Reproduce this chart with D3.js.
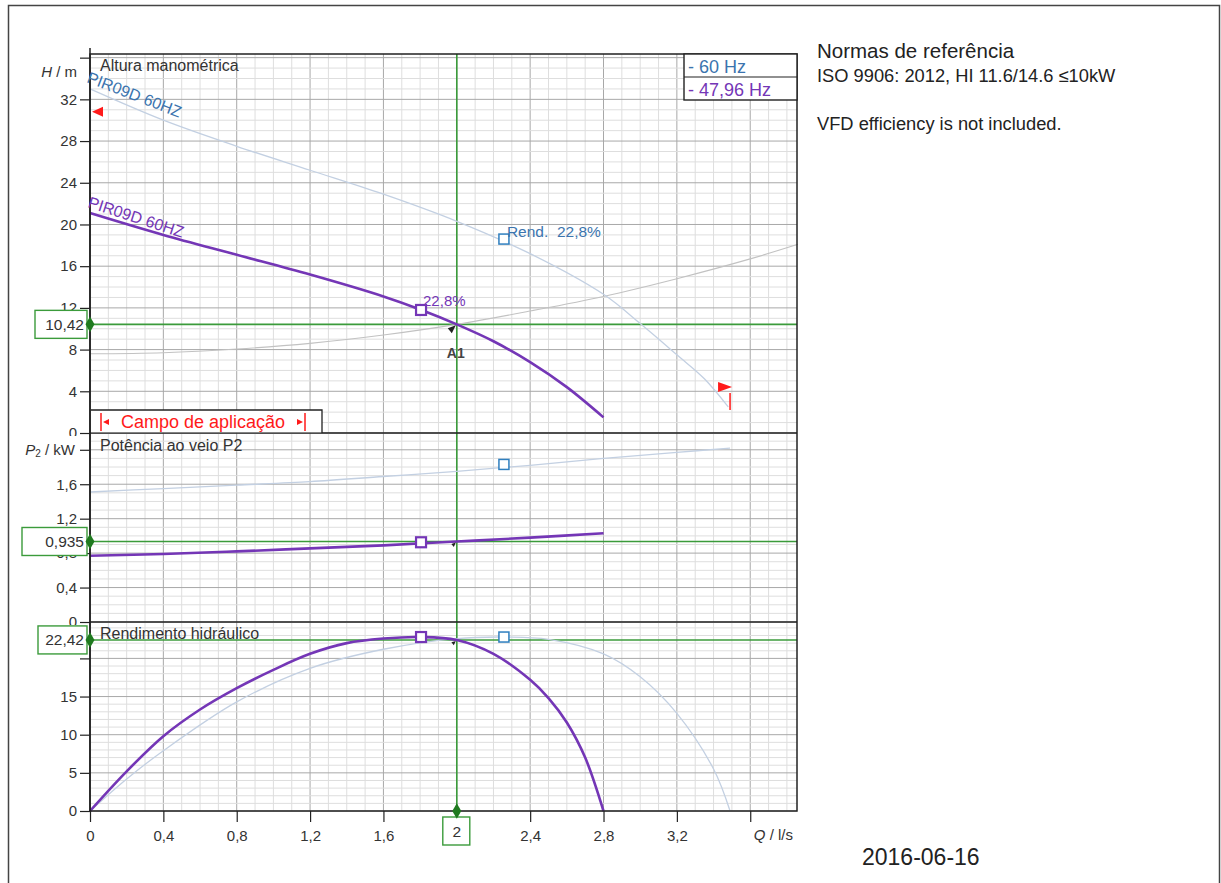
<!DOCTYPE html>
<html>
<head>
<meta charset="utf-8">
<script src="https://cdn.jsdelivr.net/npm/d3@7"></script>
<style>
  body { margin: 0; background: #fff; }
  svg { display: block; font-family: "Liberation Sans", Arial, sans-serif; }
</style>
</head>
<body>
<div id="chart"></div>
<script>
// ---- data ----
// 60 Hz curves
const qHead60 = [0, 0.4, 0.8, 1.2, 1.6, 2.0, 2.4, 2.8, 3.0, 3.2, 3.35, 3.48]
const head60 = [33.0, 30.0, 27.5, 25.2, 22.9, 20.3, 17.2, 13.3, 10.5, 7.5, 5.2, 2.5]
const qPower60 = [0, 0.4, 0.8, 1.2, 1.6, 2.0, 2.4, 2.8, 3.2, 3.49]
const power60 = [1.51, 1.55, 1.59, 1.63, 1.69, 1.75, 1.82, 1.90, 1.97, 2.02]
const qEff60 = [0, 0.2, 0.4, 0.8, 1.2, 1.6, 2.0, 2.27, 2.5, 2.8, 3.0, 3.2, 3.4, 3.49]
const eff60 = [0, 4.2, 7.9, 14.3, 18.7, 21.2, 22.6, 22.8, 22.5, 20.6, 17.6, 12.8, 5.5, 0]

// 47,96 Hz curves
const qHead48 = [0, 0.4, 0.8, 1.2, 1.6, 1.8, 2.0, 2.2, 2.4, 2.6, 2.8]
const head48 = [21.1, 19.0, 17.1, 15.2, 13.1, 11.85, 10.42, 8.8, 6.8, 4.4, 1.5]
const qPower48 = [0, 0.4, 0.8, 1.2, 1.6, 2.0, 2.4, 2.8]
const power48 = [0.77, 0.79, 0.82, 0.855, 0.89, 0.935, 0.98, 1.03]
const qEff48 = [0, 0.2, 0.4, 0.6, 0.8, 1.0, 1.2, 1.4, 1.6, 1.8, 2.0, 2.2, 2.4, 2.5, 2.6, 2.7, 2.8]
const eff48 = [0, 5.2, 9.8, 13.3, 16.1, 18.5, 20.6, 22.0, 22.6, 22.8, 22.42, 20.6, 17.2, 14.8, 11.6, 7.0, 0]

// system curve
const qSystem = [0, 0.4, 0.8, 1.2, 1.6, 2.0, 2.4, 2.8, 3.2, 3.6, 3.86]
const headSystem = [7.6, 7.7, 8.05, 8.6, 9.4, 10.42, 11.7, 13.1, 14.8, 16.7, 18.1]

// best efficiency points  [Q, H, P2, eta]
const bep60 = [2.257, 18.6, 1.83, 22.8]
const bep48 = [1.805, 11.8, 0.926, 22.8]
// duty point [Q, H, P2, eta]
const duty = [2, 10.42, 0.935, 22.42]
// application range limits [Q, H]
const rangeMin = [0, 30.8]
const rangeMax = [3.49, 2.5]

// axes
const qMax = 3.855, hMax = 36.35, pMax = 2.195, eMax = 24.77
const qTickLabels = [0, 0.4, 0.8, 1.2, 1.6, 2.4, 2.8, 3.2]
const hTickLabels = [0, 4, 8, 12, 16, 20, 24, 28, 32]
const pTickLabels = [0, 0.4, 0.8, 1.2, 1.6]
const eTickLabels = [0, 5, 10, 15]
const legendLabels = ["- 60 Hz", "- 47,96 Hz"]

// ---- drawing ----
const width = 1221, height = 883
const left = 90, right = 797
const blue = "#3b74ae", purple = "#7436b6", lightBlue = "#c3d0e2", green = "#3b9b3b", red = "#ff1a1a"

const comma = v => String(+v.toFixed(3)).replace(".", ",")

const svg = d3.select("#chart").append("svg")
    .attr("width", width)
    .attr("height", height)

// page frame
svg.append("rect")
    .attr("x", 8.5).attr("y", 5.5)
    .attr("width", 1211).attr("height", 900)
    .attr("fill", "none").attr("stroke", "#444").attr("stroke-width", 1.5)

const x = d3.scaleLinear().domain([0, qMax]).range([left, right])

const panels = [
    { y: d3.scaleLinear().domain([0, hMax]).range([433, 54]), major: 4, minor: 1, labels: hTickLabels, clip: true },
    { y: d3.scaleLinear().domain([0, pMax]).range([622, 433]), major: 0.4, minor: 0.1, labels: pTickLabels, clip: true },
    { y: d3.scaleLinear().domain([0, eMax]).range([811, 622]), major: 5, minor: 1, labels: eTickLabels, clip: false }
]
const [yH, yP, yE] = panels.map(p => p.y)

// grid
const grid = svg.append("g")
const xMinor = d3.range(0, Math.floor(qMax * 10) + 1).map(i => i / 10)
panels.forEach(p => {
    const [bottom, top] = p.y.range()
    grid.selectAll(null).data(xMinor).join("line")
        .attr("x1", d => x(d)).attr("x2", d => x(d))
        .attr("y1", top).attr("y2", bottom)
        .attr("stroke", (d, i) => i % 4 === 0 ? "#a8a8a8" : "#dedede")
        .attr("stroke-width", 1)
    const n = Math.floor(p.y.domain()[1] / p.minor + 1e-6)
    const step = Math.round(p.major / p.minor)
    grid.selectAll(null).data(d3.range(0, n + 1)).join("line")
        .attr("x1", left).attr("x2", right)
        .attr("y1", i => p.y(i * p.minor)).attr("y2", i => p.y(i * p.minor))
        .attr("stroke", i => i % step === 0 ? "#a8a8a8" : "#dedede")
        .attr("stroke-width", 1)
})

// green duty lines
const guide = svg.append("g").attr("stroke", green).attr("stroke-width", 1.6)
guide.append("line")
    .attr("x1", x(duty[0])).attr("x2", x(duty[0]))
    .attr("y1", 54).attr("y2", 811)
;[[yH, duty[1]], [yP, duty[2]], [yE, duty[3]]].forEach(([y, v]) => {
    guide.append("line")
        .attr("x1", left).attr("x2", right)
        .attr("y1", y(v)).attr("y2", y(v))
})

// curves
const line = y => d3.line().x(d => x(d[0])).y(d => y(d[1])).curve(d3.curveCatmullRom.alpha(0.5))
function curve(qs, vs, y, color, w) {
    svg.append("path")
        .datum(qs.map((q, i) => [q, vs[i]]))
        .attr("fill", "none")
        .attr("stroke", color)
        .attr("stroke-width", w)
        .attr("d", line(y))
}
curve(qSystem, headSystem, yH, "#c2c2c2", 1.1)
curve(qHead60, head60, yH, lightBlue, 1.3)
curve(qPower60, power60, yP, lightBlue, 1.3)
curve(qEff60, eff60, yE, lightBlue, 1.3)
curve(qHead48, head48, yH, purple, 2.6)
curve(qPower48, power48, yP, purple, 2.6)
curve(qEff48, eff48, yE, purple, 2.6)

// plot frame and panel separators
svg.append("rect")
    .attr("x", left).attr("y", 54)
    .attr("width", right - left).attr("height", 811 - 54)
    .attr("fill", "none").attr("stroke", "#222").attr("stroke-width", 1.5)
;[433, 622].forEach(yy => svg.append("line")
    .attr("x1", left).attr("x2", right).attr("y1", yy).attr("y2", yy)
    .attr("stroke", "#222").attr("stroke-width", 1.5))

// left axes
panels.forEach((p, k) => {
    const [bottom, top] = p.y.range()
    const g = svg.append("g").attr("transform", `translate(${left},0)`)
    if (p.clip) {
        svg.append("clipPath").attr("id", "clip" + k)
            .append("rect").attr("x", -left).attr("y", top - 10)
            .attr("width", left + 2).attr("height", bottom - top + 13)
        g.attr("clip-path", `url(#clip${k})`)
    }
    const n = Math.floor(p.y.domain()[1] / p.minor + 1e-6)
    const minors = d3.range(0, n + 1).map(i => +(i * p.minor).toFixed(3))
    const majors = minors.filter((v, i) => i % Math.round(p.major / p.minor) === 0)
    g.call(d3.axisLeft(p.y).tickValues(minors).tickSize(6).tickFormat(""))
    g.call(d3.axisLeft(p.y).tickValues(majors).tickSize(10).tickPadding(3)
        .tickFormat(v => p.labels.includes(v) ? comma(v) : ""))
    g.selectAll(".domain").remove()
    g.selectAll(".tick line").attr("stroke", "#222").attr("stroke-width", 1.2)
    g.selectAll(".tick text").attr("fill", "#333").style("font-size", "15px")
        .style("font-family", "Liberation Sans, Arial, sans-serif")
})
svg.append("line").attr("x1", left).attr("x2", left).attr("y1", 48).attr("y2", 811)
    .attr("stroke", "#222").attr("stroke-width", 1.5)

// bottom axis
const xg = svg.append("g").attr("transform", "translate(0,811)")
xg.call(d3.axisBottom(x).tickValues(xMinor).tickSize(7).tickFormat(""))
xg.call(d3.axisBottom(x).tickValues(xMinor.filter((d, i) => i % 4 === 0)).tickSize(11).tickPadding(8)
    .tickFormat(v => qTickLabels.includes(v) ? comma(v) : ""))
xg.selectAll(".domain").remove()
xg.selectAll(".tick line").attr("stroke", "#222").attr("stroke-width", 1.2)
xg.selectAll(".tick text").attr("fill", "#333").style("font-size", "15px")
    .style("font-family", "Liberation Sans, Arial, sans-serif")

// axis titles
const t = svg.append("g").attr("fill", "#333").style("font-size", "15px")
const hT = t.append("text").attr("x", 77).attr("y", 77).attr("text-anchor", "end")
hT.append("tspan").attr("font-style", "italic").text("H")
hT.append("tspan").style("white-space", "pre").text(" / m")
const pT = t.append("text").attr("x", 75).attr("y", 455).attr("text-anchor", "end")
pT.append("tspan").attr("font-style", "italic").text("P")
pT.append("tspan").style("font-size", "10px").attr("dy", 2).text("2")
pT.append("tspan").style("white-space", "pre").attr("dy", -2).text(" / kW")
const qT = t.append("text").attr("x", 793).attr("y", 840).attr("text-anchor", "end")
qT.append("tspan").attr("font-style", "italic").text("Q")
qT.append("tspan").style("white-space", "pre").text(" / l/s")

// panel titles
const titles = svg.append("g").attr("fill", "#333").style("font-size", "16px")
titles.append("text").attr("x", 100).attr("y", 71).text("Altura manométrica")
titles.append("text").attr("x", 100).attr("y", 451).text("Potência ao veio P2")
titles.append("text").attr("x", 100).attr("y", 639).text("Rendimento hidráulico")

// curve names
svg.append("text").attr("transform", "translate(86,82) rotate(21)")
    .attr("fill", blue).style("font-size", "16px").text("PIR09D 60HZ")
svg.append("text").attr("transform", "translate(87,207) rotate(18)")
    .attr("fill", purple).style("font-size", "16px").text("PIR09D 60HZ")

// small markers at duty point
;[[yH, duty[1], 1], [yP, duty[2], 0.6], [yE, duty[3], 0.6]].forEach(([y, v, s]) => {
    const px = x(duty[0]), py = y(v)
    svg.append("path")
        .attr("d", `M${px - 1},${py + 1} L${px - 9 * s},${py + 4 * s} L${px - 5 * s},${py + 9 * s} Z`)
        .attr("fill", "#222")
})
svg.append("text").attr("x", x(duty[0]) - 10).attr("y", yH(duty[1]) + 34)
    .attr("fill", "#444").style("font-size", "14px").attr("font-weight", "bold").text("A1")

// BEP squares
function square(q, v, y, color, sw) {
    svg.append("rect")
        .attr("x", x(q) - 5).attr("y", y(v) - 5)
        .attr("width", 10).attr("height", 10)
        .attr("fill", "#fff").attr("stroke", color).attr("stroke-width", sw)
}
;[[yH, 1], [yP, 2], [yE, 3]].forEach(([y, k]) => {
    square(bep60[0], bep60[k], y, "#2f7fbf", 1.5)
    square(bep48[0], bep48[k], y, purple, 2.2)
})
svg.append("text").attr("x", x(bep48[0]) + 2).attr("y", yH(bep48[1]) - 4)
    .attr("fill", purple).style("font-size", "15px").text(comma(bep48[3]) + "%")
svg.append("text").attr("x", x(bep60[0]) + 3).attr("y", yH(bep60[1]) - 2)
    .attr("fill", blue).style("font-size", "15.5px").style("white-space", "pre")
    .text("Rend.  " + comma(bep60[3]) + "%")

// application range markers
{
    const px = x(rangeMin[0]), py = yH(rangeMin[1])
    svg.append("path").attr("d", `M${px + 2},${py} L${px + 13},${py - 5} L${px + 13},${py + 5} Z`).attr("fill", red)
    const qx = x(rangeMax[0]), qy = yH(rangeMax[1])
    svg.append("line").attr("x1", qx).attr("x2", qx).attr("y1", qy + 3).attr("y2", qy - 14)
        .attr("stroke", red).attr("stroke-width", 1.5)
    svg.append("path").attr("d", `M${qx - 12},${qy - 25} L${qx + 2},${qy - 20} L${qx - 12},${qy - 15} Z`).attr("fill", red)
}

// "Campo de aplicação" box
{
    const g = svg.append("g")
    g.append("rect").attr("x", 91).attr("y", 410).attr("width", 231).attr("height", 22.3).attr("fill", "#fff")
    g.append("path").attr("d", "M91,410 H322 V433").attr("fill", "none").attr("stroke", "#222").attr("stroke-width", 1.3)
    g.append("line").attr("x1", 101).attr("x2", 101).attr("y1", 413).attr("y2", 431).attr("stroke", red).attr("stroke-width", 1.5)
    g.append("line").attr("x1", 305).attr("x2", 305).attr("y1", 413).attr("y2", 431).attr("stroke", red).attr("stroke-width", 1.5)
    g.append("path").attr("d", "M103,422 L109,419 L109,425 Z").attr("fill", red)
    g.append("path").attr("d", "M303,422 L297,419 L297,425 Z").attr("fill", red)
    g.append("text").attr("x", 203).attr("y", 428).attr("text-anchor", "middle")
        .attr("fill", red).style("font-size", "18px").text("Campo de aplicação")
}

// duty value boxes
const boxes = [
    { y: yH(duty[1]), w: 52, text: comma(duty[1]) },
    { y: yP(duty[2]), w: 65, text: comma(duty[2]) },
    { y: yE(duty[3]), w: 49, text: comma(duty[3]) }
]
boxes.forEach(b => {
    svg.append("rect").attr("x", 87 - b.w).attr("y", b.y - 14).attr("width", b.w).attr("height", 28)
        .attr("fill", "#fff").attr("stroke", green).attr("stroke-width", 1.4)
    svg.append("text").attr("x", 84).attr("y", b.y + 5.5).attr("text-anchor", "end")
        .attr("fill", "#333").style("font-size", "15.5px").text(b.text)
    svg.append("path").attr("d", d3.symbol(d3.symbolDiamond, 70)())
        .attr("transform", `translate(${left},${b.y})`).attr("fill", "#1f7a1f")
})
svg.append("rect").attr("x", x(duty[0]) - 14).attr("y", 817).attr("width", 27).attr("height", 28)
    .attr("fill", "#fff").attr("stroke", green).attr("stroke-width", 1.4)
svg.append("text").attr("x", x(duty[0])).attr("y", 837).attr("text-anchor", "middle")
    .attr("fill", "#333").style("font-size", "15.5px").text(comma(duty[0]))
svg.append("path").attr("d", d3.symbol(d3.symbolDiamond, 70)())
    .attr("transform", `translate(${x(duty[0])},811)`).attr("fill", "#1f7a1f")

// legend
{
    const g = svg.append("g")
    g.append("rect").attr("x", 684).attr("y", 54).attr("width", right - 684).attr("height", 46)
        .attr("fill", "#fff").attr("stroke", "#222").attr("stroke-width", 1.4)
    g.append("line").attr("x1", 684).attr("x2", right).attr("y1", 77).attr("y2", 77)
        .attr("stroke", "#222").attr("stroke-width", 1.2)
    g.selectAll("text").data(legendLabels).join("text")
        .attr("x", 688).attr("y", (d, i) => 73 + i * 23)
        .attr("fill", (d, i) => i === 0 ? blue : purple)
        .style("font-size", "18px").style("white-space", "pre")
        .text(d => d)
}

// side notes
const notes = svg.append("g").attr("fill", "#222")
notes.append("text").attr("x", 817).attr("y", 58).style("font-size", "20.5px").text("Normas de referência")
notes.append("text").attr("x", 817).attr("y", 82).style("font-size", "18.3px").text("ISO 9906: 2012, HI 11.6/14.6 ≤10kW")
notes.append("text").attr("x", 817).attr("y", 130).style("font-size", "18.3px").text("VFD efficiency is not included.")
notes.append("text").attr("x", 862).attr("y", 865).style("font-size", "23px").text("2016-06-16")
</script>
</body>
</html>
